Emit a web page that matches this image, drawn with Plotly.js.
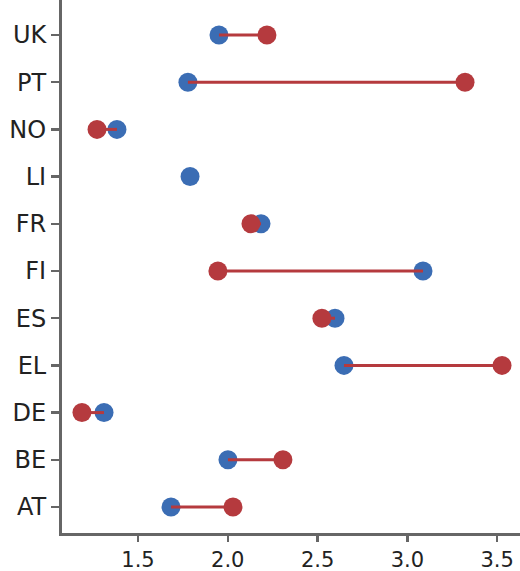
<!DOCTYPE html>
<html>
<head>
<meta charset="utf-8">
<script src="https://cdn.plot.ly/plotly-3.0.1.min.js"></script>
<style>html,body{margin:0;padding:0;background:#fff;}#chart{width:520px;height:571px;}</style>
</head>
<body>
<div id="chart"></div>
<script>
const countries = ["AT", "BE", "DE", "EL", "ES", "FI", "FR", "LI", "NO", "PT", "UK"];
const blueValues = [1.684, 2.001, 1.311, 2.647, 2.597, 3.087, 2.185, 1.790, 1.383, 1.778, 1.951];
const redValues  = [2.029, 2.307, 1.188, 3.527, 2.524, 1.945, 2.129, null, 1.272, 3.321, 2.218];

const blueColor = "#3b6db4";
const redColor = "#b53a3e";

const segX = [], segY = [];
countries.forEach((c, i) => {
  if (blueValues[i] != null && redValues[i] != null) {
    segX.push(blueValues[i], redValues[i], null);
    segY.push(c, c, null);
  }
});

const traces = [
  {type: "scatter", mode: "markers", x: blueValues, y: countries,
   marker: {color: blueColor, size: 19}, hoverinfo: "x+y", showlegend: false},
  {type: "scatter", mode: "lines", x: segX, y: segY,
   line: {color: redColor, width: 3}, hoverinfo: "skip", showlegend: false},
  {type: "scatter", mode: "markers", x: redValues, y: countries,
   marker: {color: redColor, size: 19}, hoverinfo: "x+y", showlegend: false}
];

const layout = {
  width: 520, height: 571,
  margin: {l: 62, r: 0, t: 0, b: 38},
  paper_bgcolor: "#fff", plot_bgcolor: "#fff",
  font: {family: "DejaVu Sans, Verdana, sans-serif", size: 21, color: "#222"},
  showlegend: false,
  xaxis: {
    range: [1.077, 3.627],
    tickvals: [1.5, 2.0, 2.5, 3.0, 3.5],
    ticktext: ["1.5", "2.0", "2.5", "3.0", "3.5"],
    showgrid: false, zeroline: false,
    showline: true, linecolor: "#666", linewidth: 3,
    ticks: "outside", ticklen: 6, tickwidth: 2.5, tickcolor: "#666",
    tickfont: {size: 21}
  },
  yaxis: {
    type: "category",
    categoryorder: "array", categoryarray: countries,
    range: [-0.551, 10.741],
    showgrid: false, zeroline: false,
    showline: true, linecolor: "#666", linewidth: 3,
    ticks: "outside", ticklen: 8, tickwidth: 2.5, tickcolor: "#666",
    tickfont: {size: 24}
  }
};

Plotly.newPlot("chart", traces, layout, {displayModeBar: false, staticPlot: true});
</script>
</body>
</html>
